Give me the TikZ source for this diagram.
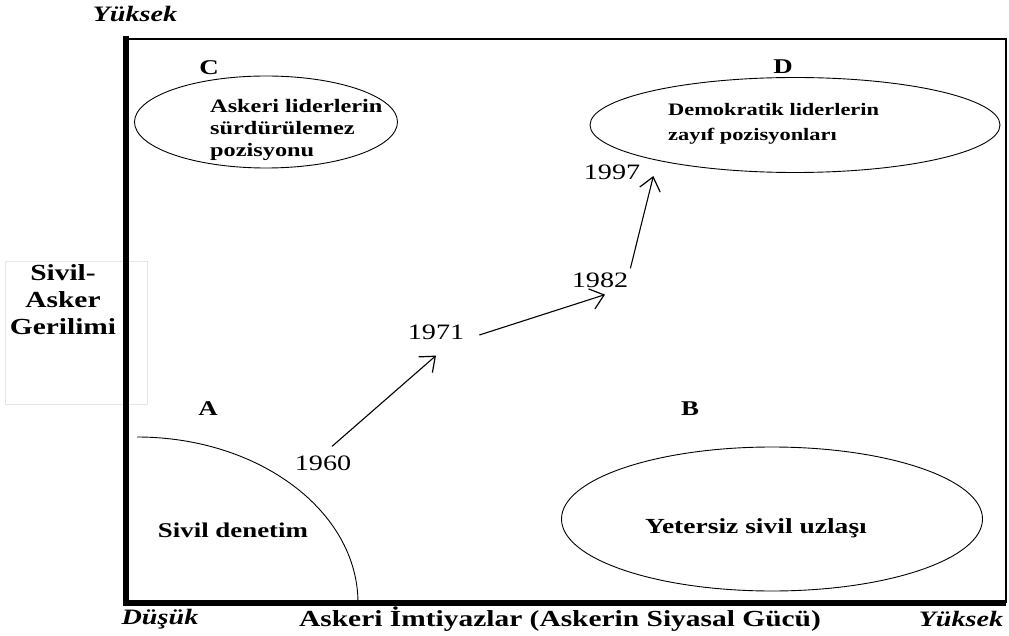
\documentclass[tikz,border=0pt]{standalone}
\usepackage{fontspec}
\setmainfont{Liberation Serif}[FakeStretch=1.28]
\usetikzlibrary{shapes.geometric}
\usetikzlibrary{arrows.meta}

\begin{document}
\begin{tikzpicture}[x=1pt, y=-1pt,
        zone/.style={ellipse, draw, line width=0.9pt},
        quad/.style={font=\fontsize{21}{22}\selectfont\bfseries},
        zonetext/.style={font=\fontsize{19}{22}\selectfont\bfseries, align=left, inner sep=0pt},
        year/.style={font=\fontsize{22}{24}\selectfont, inner sep=0pt},
        axislabel/.style={font=\fontsize{23}{27}\selectfont\bfseries, align=center},
        axisend/.style={font=\fontsize{22}{24}\selectfont\bfseries\itshape},
        trend/.style={-{Straight Barb[length=13pt,width=21pt,line width=1.2pt]}, line width=1.1pt}]
    \useasboundingbox (0,0) rectangle (1009,636);

    % frame
    \draw[gray!20] (5,261) rectangle (147,404);
    \draw[line width=1.3pt] (126,39) -- (1006,39) -- (1006,603);
    \draw[line width=6pt] (126,36) -- (126,603) -- (1006,603);

    % axis labels
    \node[axislabel] (tension) at (63,300) {Sivil-\\Asker\\Gerilimi};
    \node[axisend] (ytop) at (135,14) {Yüksek};
    \node[axisend] (xlow) at (160,619) {Düşük};
    \node[axislabel] (privileges) at (560,619) {Askeri İmtiyazlar (Askerin Siyasal Gücü)};
    \node[axisend] (xhigh) at (961,619) {Yüksek};

    % quadrants
    \node[quad] (qc) at (209,68) {C};
    \node[quad] (qd) at (783,67) {D};
    \node[quad] (qa) at (208,409) {A};
    \node[quad] (qb) at (690,409) {B};

    \node[zone, minimum width=263, minimum height=92] (zc) at (266,122) {};
    \node[zonetext, anchor=west] (tc) at (210,130) {Askeri liderlerin\\sürdürülemez\\pozisyonu};
    \node[zone, minimum width=410, minimum height=95] (zd) at (795,125) {};
    \node[zonetext, anchor=west, font=\fontsize{17.5}{25}\selectfont\bfseries] (td) at (668,124) {Demokratik\ liderlerin\\zayıf pozisyonları};
    \node[zone, minimum width=421, minimum height=144] (zb) at (772,519) {};
    \node[zonetext, font=\fontsize{21.5}{22}\selectfont\bfseries] (tb) at (756,528) {Yetersiz sivil uzlaşı};
    \draw[line width=0.9pt] (137,437) arc (-90:0:221 and 166);
    \node[zonetext, font=\fontsize{21}{22}\selectfont\bfseries] (ta) at (233,530) {Sivil denetim};

    % years
    \node[year] (y60) at (323,463) {1960};
    \node[year] (y71) at (436,332) {1971};
    \node[year] (y82) at (600,280) {1982};
    \node[year] (y97) at (612,172) {1997};
    \draw[trend] ([xshift=9pt, yshift=9pt]y60.north) -- ([yshift=-16pt]y71.south);
    \draw[trend] ([xshift=15pt, yshift=-3pt]y71.east) -- ([xshift=5pt, yshift=-7pt]y82.south);
    \draw[trend] ([xshift=2pt, yshift=4pt]y82.north east) -- ([xshift=13pt, yshift=-4pt]y97.east);
\end{tikzpicture}
\end{document}
